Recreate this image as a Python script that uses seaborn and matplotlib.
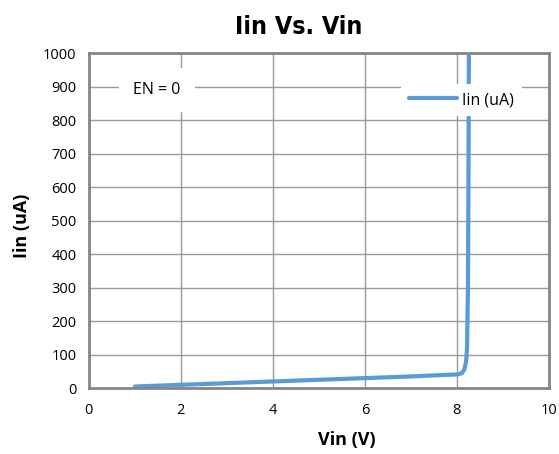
import matplotlib
matplotlib.use("Agg")
import matplotlib.pyplot as plt
import pandas as pd
import seaborn as sns

# data
vin = [1.0, 2.0, 3.0, 4.0, 5.0, 6.0, 7.0, 8.0, 8.1, 8.16, 8.2, 8.22, 8.24, 8.25, 8.26]
iin = [5, 10, 15, 20, 25, 30, 35, 41, 44, 55, 80, 120, 300, 600, 1000]

df = pd.DataFrame({"Vin": vin, "Iin": iin})

sns.set_style("white")
plt.rcParams["font.family"] = ["Open Sans", "DejaVu Sans"]
plt.rcParams["text.color"] = "black"
plt.rcParams["axes.labelcolor"] = "black"
plt.rcParams["xtick.color"] = "black"
plt.rcParams["ytick.color"] = "black"

fig = plt.figure(figsize=(5.59, 4.54), dpi=100)
ax = fig.add_axes([0.159, 0.145, 0.823, 0.738])

sns.lineplot(data=df, x="Vin", y="Iin", sort=False, color="#5B9BD5",
             linewidth=3, ax=ax, label="Iin (uA)")

ax.set_xlim(0, 10)
ax.set_ylim(0, 1000)
ax.set_xticks(range(0, 11, 2))
ax.set_yticks(range(0, 1001, 100))
ax.grid(True, color="#9a9a9a", linewidth=1)
ax.set_axisbelow(True)
for s in ax.spines.values():
    s.set_color("#868686")
    s.set_linewidth(2)
ax.tick_params(length=0, labelsize=10.5)
ax.tick_params(axis="x", pad=11)
ax.tick_params(axis="y", pad=9)

ax.set_xlabel("Vin (V)", fontsize=13, fontweight="bold", va="center")
ax.set_ylabel("Iin (uA)", fontsize=13, fontweight="bold", va="center")
ax.xaxis.set_label_coords(0.561, -0.155)
ax.yaxis.set_label_coords(-0.146, 0.484)
ax.set_title("Iin Vs. Vin", fontsize=18, fontweight="heavy", fontstretch="condensed",
             family=["DejaVu Sans"], x=0.457, pad=14)

ax.text(1.48, 890, "EN = 0", fontsize=11.5, ha="center", va="center",
        bbox=dict(facecolor="white", edgecolor="none", pad=10))

leg = ax.legend(loc="center", bbox_to_anchor=(0.81, 0.86), frameon=True,
                fontsize=11.5, handlelength=3.0, handletextpad=0.3,
                borderpad=0.5, fancybox=False)
leg.get_frame().set_edgecolor("none")
leg.get_frame().set_facecolor("white")
leg.get_frame().set_alpha(1)

fig.savefig("out.png", dpi=100)
